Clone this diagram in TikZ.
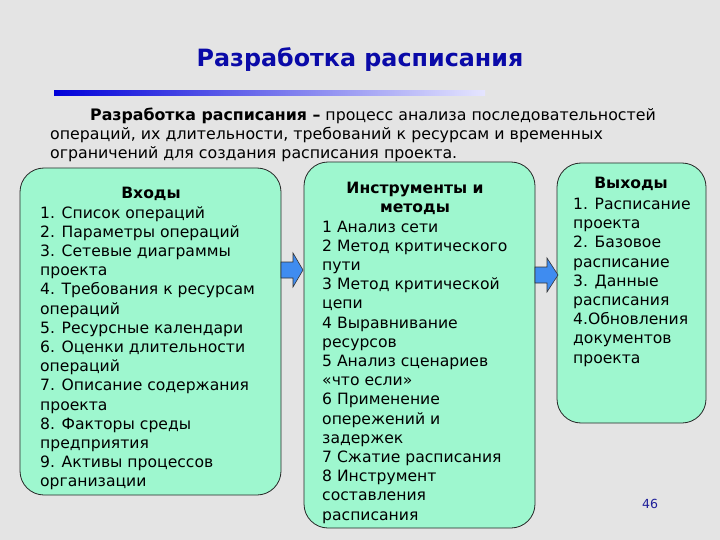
\documentclass[tikz,border=0pt]{standalone}
\usepackage{fontspec}
\setmainfont{DejaVu Sans}
\usetikzlibrary{shadings}
\definecolor{bgc}{HTML}{E4E4E4}
\definecolor{boxfill}{HTML}{9EF7CF}
\definecolor{titleblue}{HTML}{0A0AA8}
\definecolor{arrowblue}{HTML}{3F8CF0}
\definecolor{numblue}{HTML}{20209A}
\tikzset{
  box/.style={draw=black!85, line width=0.8pt, fill=boxfill, rounded corners=24pt},
  bigarrow/.style={draw=black!80, line width=0.6pt, fill=arrowblue},
  body/.style={inner sep=0pt, align=left, anchor=north west, font=\fontsize{15.6}{19.2}\selectfont},
  head/.style={inner sep=0pt, align=center, font=\fontsize{15.6}{19.2}\selectfont\bfseries},
}
\begin{document}
\begin{tikzpicture}[x=1pt,y=-1pt]
\useasboundingbox (0,0) rectangle (720,540);
\fill[bgc] (0,0) rectangle (720,540);

% title
\node[inner sep=0pt, text=titleblue, font=\fontsize{23.8}{26}\selectfont\bfseries] (title) at (360,60) {Разработка расписания};
\shade[left color=blue!85!black, right color=white!90!blue] (54,91) rectangle (485,96);

% paragraph
\node[body, font=\fontsize{15.8}{18.8}\selectfont] (para) at (50,108) {\hspace*{40pt}\textbf{Разработка расписания –} процесс анализа последовательностей\\операций, их длительности, требований к ресурсам и временных\\ограничений для создания расписания проекта.};

% boxes
\draw[box] (20,168) rectangle (281,495);
\draw[box] (304,162) rectangle (535,528);
\draw[box] (557,163) rectangle (706,423);
\coordinate (lb) at (281,270);
\coordinate (mbl) at (304,270);
\coordinate (mbr) at (535,275);
\coordinate (rb) at (557,275);

% arrows
\draw[bigarrow] (281,262) -- (293,262) -- (293,253) -- (303,270) -- (293,287) -- (293,278) -- (281,278) -- cycle;
\draw[bigarrow] (535,267) -- (547,267) -- (547,258) -- (558,275) -- (547,292) -- (547,283) -- (535,283) -- cycle;

% left text
\node[head] (inh) at (151,194) {Входы};
\node[body] (inl) at (40,206) {1. Список операций\\2. Параметры операций\\3. Сетевые диаграммы\\проекта\\4. Требования к ресурсам\\операций\\5. Ресурсные календари\\6. Оценки длительности\\операций\\7. Описание содержания\\проекта\\8. Факторы среды\\предприятия\\9. Активы процессов\\организации};

% middle text
\node[head] (toolh) at (415,198) {Инструменты и\\методы};
\node[body] (tooll) at (322,220.5) {1 Анализ сети\\2 Метод критического\\пути\\3 Метод критической\\цепи\\4 Выравнивание\\ресурсов\\5 Анализ сценариев\\«что если»\\6 Применение\\опережений и\\задержек\\7 Сжатие расписания\\8 Инструмент\\составления\\расписания};

% right text
\node[head] (outh) at (631,184) {Выходы};
\node[body] (outl) at (573,198) {1. Расписание\\проекта\\2. Базовое\\расписание\\3. Данные\\расписания\\4.Обновления\\документов\\проекта};

\node[inner sep=0pt, text=numblue, font=\fontsize{12.5}{14}\selectfont] (pg) at (650,504) {46};
\end{tikzpicture}
\end{document}
